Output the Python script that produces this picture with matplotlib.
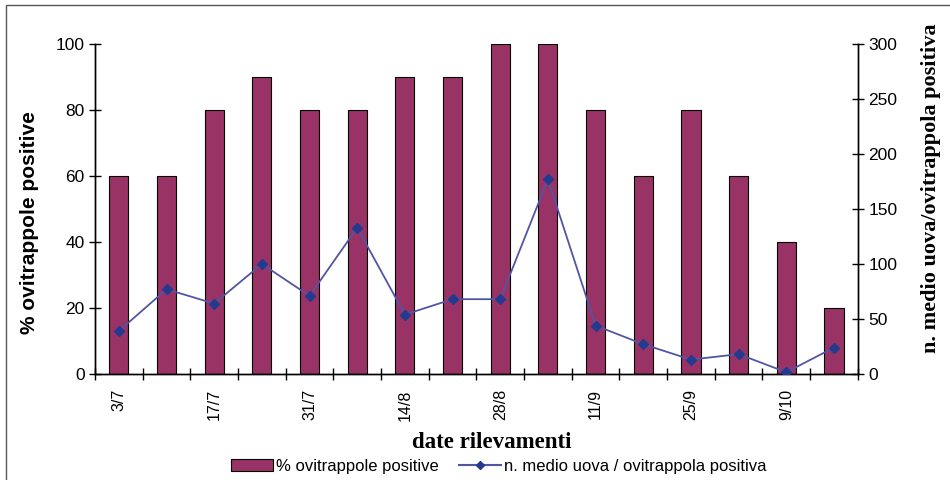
import matplotlib
matplotlib.use("Agg")
import matplotlib.pyplot as plt
from matplotlib.lines import Line2D
from matplotlib.patches import Rectangle
import numpy as np

dates = ["3/7", "10/7", "17/7", "24/7", "31/7", "7/8", "14/8", "21/8",
         "28/8", "4/9", "11/9", "18/9", "25/9", "2/10", "9/10", "16/10"]
perc_positive = [60, 60, 80, 90, 80, 80, 90, 90, 100, 100, 80, 60, 80, 60, 40, 20]
mean_eggs = [39, 77, 64, 100, 71, 133, 54, 68, 68, 177, 44, 27, 13, 18, 1.5, 24]

bar_color = "#993366"
line_color = "#5255a3"
marker_color = "#233a8f"

plt.rcParams['font.family'] = ['Liberation Sans', 'DejaVu Sans']

fig = plt.figure(figsize=(9.5, 4.8), dpi=100)
ax = fig.add_axes([0.1, 0.221, 0.803, 0.687])
ax2 = ax.twinx()

x = np.arange(len(dates))
ax.bar(x, perc_positive, width=0.4, color=bar_color, edgecolor="black", linewidth=0.8, zorder=2)
ax2.plot(x, mean_eggs, color=line_color, linewidth=1.3, marker="D", markersize=5,
         markerfacecolor=marker_color, markeredgecolor=marker_color, zorder=3)

ax.set_xlim(-0.5, len(dates) - 0.5)
ax.set_ylim(0, 100)
ax2.set_ylim(0, 300)
ax.set_yticks(range(0, 101, 20))
ax2.set_yticks(range(0, 301, 50))

# ticks at category boundaries, labels every other category
ax.set_xticks(np.arange(-0.5, len(dates) + 0.5, 1.0))
ax.set_xticklabels([])
ax.set_xticks(x[::2], minor=True)
ax.set_xticklabels(dates[::2], minor=True, rotation=90, fontsize=11.5)
ax.tick_params(axis="x", which="minor", length=0, pad=11)
ax.tick_params(axis="x", which="major", direction="inout", length=8, width=1)
ax.tick_params(axis="y", direction="inout", length=8, width=1, labelsize=12.5)
ax2.tick_params(axis="y", direction="inout", length=8, width=1, labelsize=12.5)

for a in (ax, ax2):
    a.spines["top"].set_visible(False)
    for s in ("left", "right", "bottom"):
        a.spines[s].set_linewidth(1.0)

ax.set_ylabel("% ovitrappole positive", fontsize=15, fontweight="bold")
ax.yaxis.set_label_coords(-0.074, 0.458)
ax2.set_ylabel("n. medio uova/ovitrappola positiva", fontsize=16, fontweight="bold",
               family=["Liberation Serif"])
ax2.yaxis.set_label_coords(1.083, 0.564)
ax.set_xlabel("date rilevamenti", fontsize=16.5, fontweight="bold",
              family=["Liberation Serif"])
ax.xaxis.set_label_coords(0.52, -0.175)

handles = [Rectangle((0, 0), 1, 1, facecolor=bar_color, edgecolor="black", linewidth=0.8),
           Line2D([], [], color=line_color, marker="D", markersize=4,
                  markerfacecolor=marker_color, markeredgecolor=marker_color)]
fig.legend(handles, ["% ovitrappole positive", "n. medio uova / ovitrappola positiva"],
           loc="center", bbox_to_anchor=(0.525, 0.028), ncol=2, frameon=False,
           fontsize=12, handlelength=2.5, columnspacing=1.2, handletextpad=0.2)

fig.patches.append(Rectangle((0.006, -0.05), 1.1, 1.04, transform=fig.transFigure,
                             fill=False, edgecolor="#555555", linewidth=1.0))

fig.savefig("out.png", dpi=100)
